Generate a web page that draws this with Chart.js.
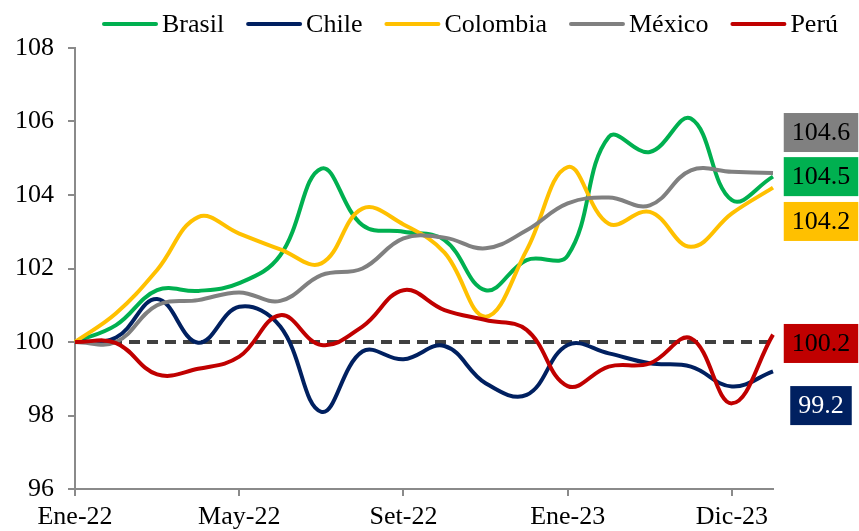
<!DOCTYPE html>
<html>
<head>
<meta charset="utf-8">
<script src="https://cdn.jsdelivr.net/npm/chart.js@4"></script>
<style>
  html, body { margin: 0; padding: 0; background: #fff; }
  #wrap { width: 859px; height: 531px; }
</style>
</head>
<body>
<div id="wrap"><canvas id="chart" width="859" height="531"></canvas></div>
<script>
// Índices de tipo de cambio real (Ene-22 = 100)
const months = ['Ene-22', 'Feb-22', 'Mar-22', 'Abr-22', 'May-22', 'Jun-22', 'Jul-22', 'Ago-22',
                'Set-22', 'Oct-22', 'Nov-22', 'Dic-22', 'Ene-23', 'Mar-23', 'Jun-23', 'Set-23',
                'Dic-23', 'Ene-24'];
const shownTicks = ['Ene-22', 'May-22', 'Set-22', 'Ene-23', 'Dic-23'];

const brasil   = [100, 100.46, 101.41, 101.39, 101.6, 102.36, 104.72, 103.18, 103.0, 102.77, 101.41, 102.23, 102.35, 105.58, 105.17, 106.08, 103.86, 104.5];
const chile    = [100, 100.12, 101.17, 99.98, 100.96, 100.42, 98.1, 99.74, 99.53, 99.89, 98.88, 98.56, 99.92, 99.69, 99.42, 99.33, 98.79, 99.2];
const colombia = [100, 100.78, 101.96, 103.4, 102.95, 102.52, 102.14, 103.63, 103.2, 102.43, 100.69, 102.5, 104.76, 103.22, 103.54, 102.59, 103.5, 104.2];
const mexico   = [100, 100.0, 101.0, 101.14, 101.35, 101.12, 101.82, 102.0, 102.82, 102.84, 102.55, 103.04, 103.77, 103.93, 103.72, 104.67, 104.63, 104.6];
const peru     = [100, 99.97, 99.12, 99.27, 99.6, 100.73, 99.92, 100.42, 101.41, 100.87, 100.6, 100.33, 98.8, 99.33, 99.42, 100.1, 98.33, 100.2];
const base     = months.map(() => 100);

const names  = ['Brasil', 'Chile', 'Colombia', 'México', 'Perú'];
const colors = ['#00B050', '#002060', '#FFC000', '#808080', '#C00000'];
const series = [brasil, chile, colombia, mexico, peru];

// where each end-value tag sits on the y scale, and its text colour
const tagAt    = [104.5, 98.27, 103.28, 105.7, 99.96];
const tagInk   = ['#000', '#fff', '#000', '#000', '#000'];

const SERIF = '"Liberation Serif", "Times New Roman", serif';

const datasets = series.map((data, i) => ({
    label: names[i],
    data: data,
    borderColor: colors[i],
    backgroundColor: colors[i],
    borderWidth: 4,
    pointRadius: 0,
    tension: 0.4,
    order: series.length - i
}));
datasets.push({
    label: '',
    data: base,
    borderColor: '#404040',
    borderWidth: 4,
    borderDash: [11, 7],
    pointRadius: 0,
    tension: 0,
    order: 10
});

// legend row on top: line sample + name
const legendRow = {
    id: 'legendRow',
    afterDraw(chart) {
        const ctx = chart.ctx;
        ctx.save();
        ctx.font = '26px ' + SERIF;
        ctx.textBaseline = 'middle';
        ctx.lineCap = 'round';
        let x = 104;
        const y = 24;
        names.forEach((n, i) => {
            ctx.strokeStyle = colors[i];
            ctx.lineWidth = 4;
            ctx.beginPath();
            ctx.moveTo(x, y);
            ctx.lineTo(x + 52, y);
            ctx.stroke();
            x += 58;
            ctx.fillStyle = '#000';
            ctx.fillText(n, x, y + 1);
            x += ctx.measureText(n).width + 24;
        });
        ctx.restore();
    }
};

// boxed last values at the right edge
const endTags = {
    id: 'endTags',
    afterDatasetsDraw(chart) {
        const ctx = chart.ctx;
        const yScale = chart.scales.y;
        ctx.save();
        ctx.font = '26px ' + SERIF;
        ctx.textAlign = 'center';
        ctx.textBaseline = 'middle';
        series.forEach((data, i) => {
            const txt = data[data.length - 1].toFixed(1);
            const w = ctx.measureText(txt).width + 16;
            const h = 39;
            const cx = 821;
            const cy = yScale.getPixelForValue(tagAt[i]);
            ctx.fillStyle = colors[i];
            ctx.fillRect(cx - w / 2, cy - h / 2, w, h);
            ctx.fillStyle = tagInk[i];
            ctx.fillText(txt, cx, cy + 1);
        });
        ctx.restore();
    }
};

new Chart(document.getElementById('chart'), {
    type: 'line',
    data: { labels: months, datasets: datasets },
    options: {
        responsive: false,
        devicePixelRatio: 1,
        animation: false,
        layout: { padding: { top: 48, right: 86, left: 0, bottom: 0 } },
        plugins: {
            legend: { display: false },
            tooltip: { enabled: false }
        },
        scales: {
            x: {
                offset: false,
                grid: { drawOnChartArea: false, drawTicks: true, tickLength: 7, color: '#8a8a8a', lineWidth: 2 },
                border: { color: '#8a8a8a', width: 2 },
                ticks: {
                    autoSkip: false,
                    maxRotation: 0,
                    padding: 6,
                    color: '#000',
                    font: { family: SERIF, size: 26 },
                    callback: function(v, i) {
                        const lab = this.getLabelForValue(v);
                        return shownTicks.includes(lab) ? lab : null;
                    }
                },
                afterFit: (s) => { s.height = 42; }
            },
            y: {
                min: 96,
                max: 108,
                grid: { drawOnChartArea: false, drawTicks: true, tickLength: 7, color: '#8a8a8a', lineWidth: 2 },
                border: { color: '#8a8a8a', width: 2 },
                ticks: {
                    stepSize: 2,
                    padding: 14,
                    color: '#000',
                    font: { family: SERIF, size: 26 }
                },
                afterFit: (s) => { s.width = 75; }
            }
        }
    },
    plugins: [legendRow, endTags]
});
</script>
</body>
</html>
